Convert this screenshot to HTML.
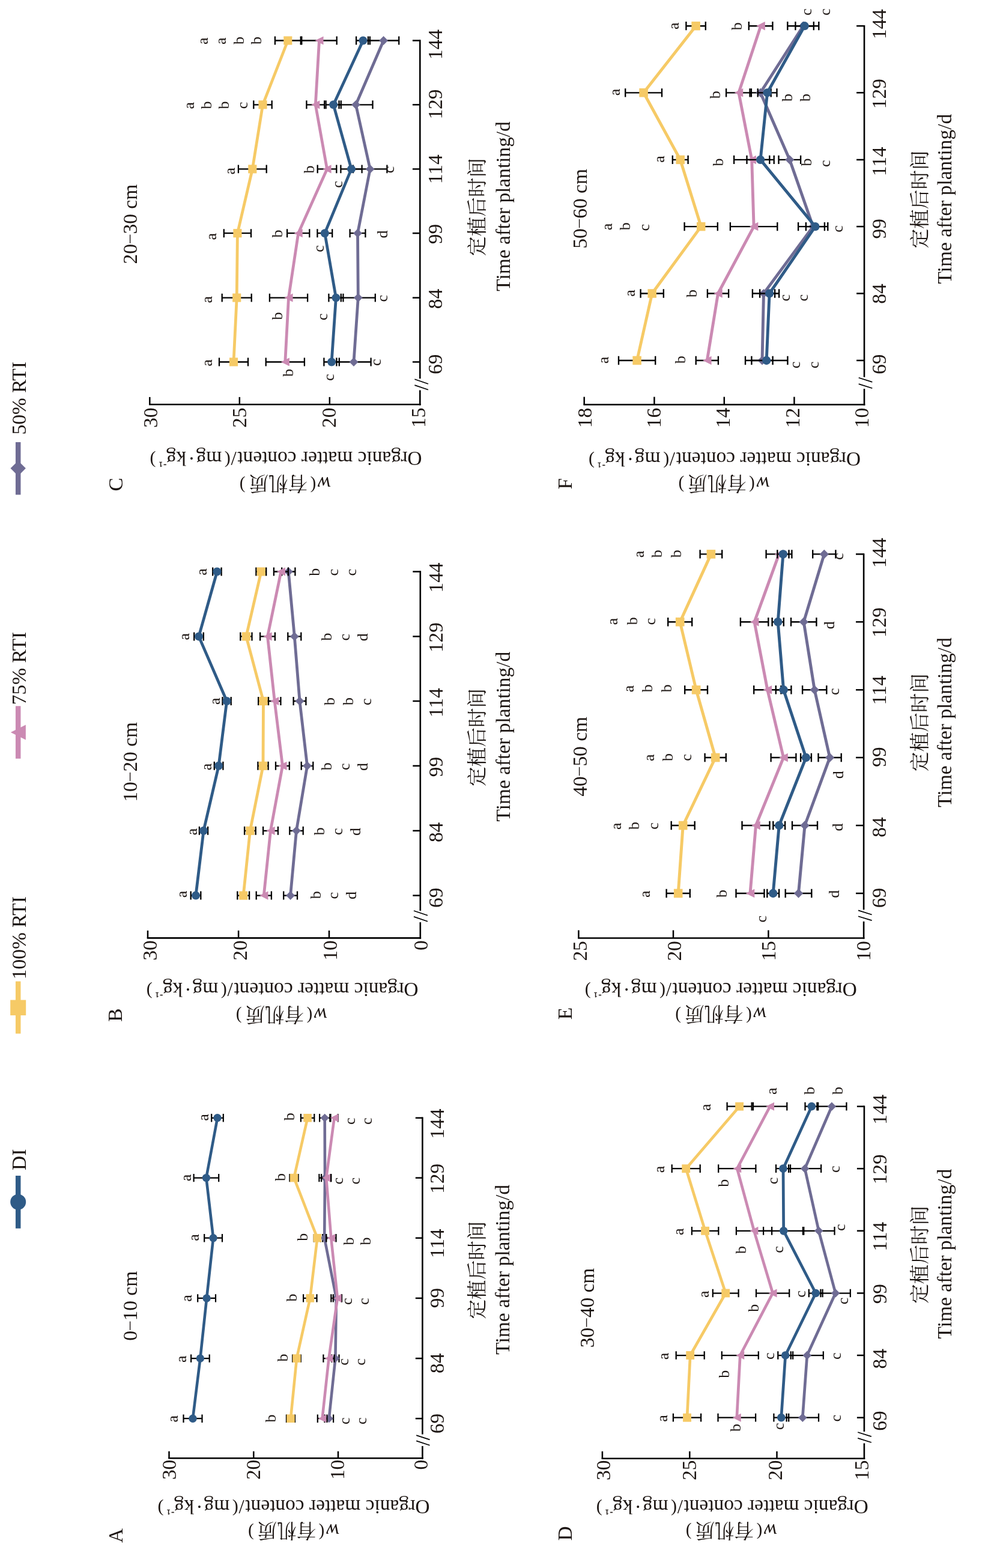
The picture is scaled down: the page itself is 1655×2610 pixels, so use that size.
<!DOCTYPE html>
<html lang="zh"><head><meta charset="utf-8"><title>Organic matter content</title>
<style>html,body{margin:0;padding:0;background:#fff}svg{display:block}.t{font-family:"Liberation Serif","Noto Serif CJK SC",serif;fill:#1c1512}.ti{font-family:"Liberation Serif","Noto Serif CJK SC",serif;font-style:italic;fill:#1c1512}.tb{font-family:"Liberation Serif","Noto Serif CJK SC",serif;fill:#1c1512;stroke:#1c1512;stroke-width:.35px}.c{font-family:"Noto Serif CJK SC","Liberation Serif",serif;fill:#1c1512}</style></head><body>
<svg xmlns="http://www.w3.org/2000/svg" width="1655" height="2610" viewBox="0 0 1655 2610">
<rect width="1655" height="2610" fill="#fff"/>
<g id="legend">
<line x1="30.2" y1="1957" x2="30.2" y2="2044.8" stroke="#2f5b87" stroke-width="8.5"/>
<circle cx="30.2" cy="2000.7" r="13" fill="#2f5b87"/>
<text class="t" font-size="33.4" transform="translate(43.2 1947.98) rotate(-90)">DI</text>
<line x1="30.2" y1="1633.4" x2="30.2" y2="1720.6" stroke="#f6ca66" stroke-width="8.5"/>
<rect x="17.2" y="1664.5" width="26" height="25.6" fill="#f6ca66"/>
<text class="t" font-size="33.4" transform="translate(43.2 1630.14) rotate(-90)">100% RTI</text>
<line x1="30.2" y1="1175.2" x2="30.2" y2="1262.8" stroke="#cb8ab3" stroke-width="8.5"/>
<polygon points="17.8,1218.9 42.9,1206.4 42.9,1231.4" fill="#cb8ab3"/>
<text class="t" font-size="33.4" transform="translate(43.2 1173.16) rotate(-90)">75% RTI</text>
<line x1="30.2" y1="735.9" x2="30.2" y2="823.6" stroke="#6f6c94" stroke-width="8.5"/>
<polygon points="17.5,779.6 30.2,766.9 42.9,779.6 30.2,792.3" fill="#6f6c94"/>
<text class="t" font-size="33.4" transform="translate(43.2 723.52) rotate(-90)">50% RTI</text>
</g>
<g id="chartA">
<line x1="280.25" y1="2427.3" x2="704.7" y2="2427.3" stroke="#000" stroke-width="2.6"/>
<line x1="281.5" y1="2427.3" x2="281.5" y2="2415.7" stroke="#000" stroke-width="2.5"/>
<line x1="422.3" y1="2427.3" x2="422.3" y2="2415.7" stroke="#000" stroke-width="2.5"/>
<line x1="563" y1="2427.3" x2="563" y2="2415.7" stroke="#000" stroke-width="2.5"/>
<line x1="703.4" y1="1859.55" x2="703.4" y2="2387.5" stroke="#000" stroke-width="2.6"/>
<line x1="703.4" y1="2407" x2="703.4" y2="2428.6" stroke="#000" stroke-width="2.6"/>
<line x1="693.2" y1="2389.1" x2="715.5" y2="2396.4" stroke="#000" stroke-width="1.7"/>
<line x1="693.2" y1="2398.4" x2="715.5" y2="2405.7" stroke="#000" stroke-width="1.7"/>
<line x1="703.4" y1="2361.2" x2="691.8" y2="2361.2" stroke="#000" stroke-width="2.5"/>
<line x1="703.4" y1="2261.1" x2="691.8" y2="2261.1" stroke="#000" stroke-width="2.5"/>
<line x1="703.4" y1="2160.9" x2="691.8" y2="2160.9" stroke="#000" stroke-width="2.5"/>
<line x1="703.4" y1="2060.7" x2="691.8" y2="2060.7" stroke="#000" stroke-width="2.5"/>
<line x1="703.4" y1="1960.6" x2="691.8" y2="1960.6" stroke="#000" stroke-width="2.5"/>
<line x1="703.4" y1="1860.8" x2="691.8" y2="1860.8" stroke="#000" stroke-width="2.5"/>
<text class="t" font-size="33.4" transform="translate(293.3 2463.1) rotate(-90)">30</text>
<text class="t" font-size="33.4" transform="translate(433 2463.1) rotate(-90)">20</text>
<text class="t" font-size="33.4" transform="translate(572.7 2463.1) rotate(-90)">10</text>
<text class="t" font-size="33.4" transform="translate(712.4 2446.4) rotate(-90)">0</text>
<text class="t" font-size="33.4" transform="translate(738.6 2386.2) rotate(-90)">69</text>
<text class="t" font-size="33.4" transform="translate(738.6 2286.02) rotate(-90)">84</text>
<text class="t" font-size="33.4" transform="translate(738.6 2177.13) rotate(-90)">99</text>
<text class="t" font-size="33.4" transform="translate(738.6 2094.33) rotate(-90)">114</text>
<text class="t" font-size="33.4" transform="translate(738.6 1987) rotate(-90)">129</text>
<text class="t" font-size="33.4" transform="translate(738.6 1895.72) rotate(-90)">144</text>
<g>
<path d="M540.5 2361.2H555.1M540.5 2354.5V2367.9M555.1 2354.5V2367.9M552.3 2261.1H564.5M552.3 2254.4V2267.8M564.5 2254.4V2267.8M551.3 2160.9H568.5M551.3 2154.2V2167.6M568.5 2154.2V2167.6M537.2 2060.7H543.2M537.2 2054V2067.4M543.2 2054V2067.4M531.4 1960.6H550.6M531.4 1953.9V1967.3M550.6 1953.9V1967.3M532.1 1860.8H549.3M532.1 1854.1V1867.5M549.3 1854.1V1867.5" stroke="#000" stroke-width="2.2" fill="none"/>
<polyline points="547.8,2361.2 558.4,2261.1 559.9,2160.9 540.2,2060.7 541,1960.6 540.7,1860.8" fill="none" stroke="#6f6c94" stroke-width="4.6" stroke-linejoin="round"/>
<polygon points="540.7,2361.2 547.8,2354.1 554.9,2361.2 547.8,2368.3" fill="#6f6c94"/>
<polygon points="551.3,2261.1 558.4,2254 565.5,2261.1 558.4,2268.2" fill="#6f6c94"/>
<polygon points="552.8,2160.9 559.9,2153.8 567,2160.9 559.9,2168" fill="#6f6c94"/>
<polygon points="533.1,2060.7 540.2,2053.6 547.3,2060.7 540.2,2067.8" fill="#6f6c94"/>
<polygon points="533.9,1960.6 541,1953.5 548.1,1960.6 541,1967.7" fill="#6f6c94"/>
<polygon points="533.6,1860.8 540.7,1853.7 547.8,1860.8 540.7,1867.9" fill="#6f6c94"/>
</g>
<g>
<path d="M528.8 2361.2H544.4M528.8 2354.5V2367.9M544.4 2354.5V2367.9M538.4 2261.1H556.6M538.4 2254.4V2267.8M556.6 2254.4V2267.8M554.8 2160.9H569M554.8 2154.2V2167.6M569 2154.2V2167.6M543.1 2060.7H559.5M543.1 2054V2067.4M559.5 2054V2067.4M535.1 1960.6H551.3M535.1 1953.9V1967.3M551.3 1953.9V1967.3M550.5 1860.8H562.7M550.5 1854.1V1867.5M562.7 1854.1V1867.5" stroke="#000" stroke-width="2.2" fill="none"/>
<polyline points="536.6,2361.2 547.5,2261.1 561.9,2160.9 551.3,2060.7 543.2,1960.6 556.6,1860.8" fill="none" stroke="#cb8ab3" stroke-width="4.6" stroke-linejoin="round"/>
<polygon points="529.8,2361.2 543.4,2354.4 543.4,2368" fill="#cb8ab3"/>
<polygon points="540.7,2261.1 554.3,2254.3 554.3,2267.9" fill="#cb8ab3"/>
<polygon points="555.1,2160.9 568.7,2154.1 568.7,2167.7" fill="#cb8ab3"/>
<polygon points="544.5,2060.7 558.1,2053.9 558.1,2067.5" fill="#cb8ab3"/>
<polygon points="536.4,1960.6 550,1953.8 550,1967.4" fill="#cb8ab3"/>
<polygon points="549.8,1860.8 563.4,1854 563.4,1867.6" fill="#cb8ab3"/>
</g>
<g>
<path d="M477 2361.2H491M477 2354.5V2367.9M491 2354.5V2367.9M487.2 2261.1H500.8M487.2 2254.4V2267.8M500.8 2254.4V2267.8M505.1 2160.9H527.5M505.1 2154.2V2167.6M527.5 2154.2V2167.6M522.7 2060.7H533.9M522.7 2054V2067.4M533.9 2054V2067.4M482.4 1960.6H496.6M482.4 1953.9V1967.3M496.6 1953.9V1967.3M500.9 1860.8H523.3M500.9 1854.1V1867.5M523.3 1854.1V1867.5" stroke="#000" stroke-width="2.2" fill="none"/>
<polyline points="484,2361.2 494,2261.1 516.3,2160.9 528.3,2060.7 489.5,1960.6 512.1,1860.8" fill="none" stroke="#f6ca66" stroke-width="4.6" stroke-linejoin="round"/>
<rect x="477.2" y="2354.4" width="13.6" height="13.6" fill="#f6ca66"/>
<rect x="487.2" y="2254.3" width="13.6" height="13.6" fill="#f6ca66"/>
<rect x="509.5" y="2154.1" width="13.6" height="13.6" fill="#f6ca66"/>
<rect x="521.5" y="2053.9" width="13.6" height="13.6" fill="#f6ca66"/>
<rect x="482.7" y="1953.8" width="13.6" height="13.6" fill="#f6ca66"/>
<rect x="505.3" y="1854" width="13.6" height="13.6" fill="#f6ca66"/>
</g>
<g>
<path d="M305.5 2361.2H336.5M305.5 2354.5V2367.9M336.5 2354.5V2367.9M318.1 2261.1H348.7M318.1 2254.4V2267.8M348.7 2254.4V2267.8M329.2 2160.9H359M329.2 2154.2V2167.6M359 2154.2V2167.6M340.2 2060.7H370M340.2 2054V2067.4M370 2054V2067.4M322.6 1960.6H364.2M322.6 1953.9V1967.3M364.2 1953.9V1967.3M352.2 1860.8H371.8M352.2 1854.1V1867.5M371.8 1854.1V1867.5" stroke="#000" stroke-width="2.2" fill="none"/>
<polyline points="321,2361.2 333.4,2261.1 344.1,2160.9 355.1,2060.7 343.4,1960.6 362,1860.8" fill="none" stroke="#2f5b87" stroke-width="4.6" stroke-linejoin="round"/>
<circle cx="321" cy="2361.2" r="6.7" fill="#2f5b87"/>
<circle cx="333.4" cy="2261.1" r="6.7" fill="#2f5b87"/>
<circle cx="344.1" cy="2160.9" r="6.7" fill="#2f5b87"/>
<circle cx="355.1" cy="2060.7" r="6.7" fill="#2f5b87"/>
<circle cx="343.4" cy="1960.6" r="6.7" fill="#2f5b87"/>
<circle cx="362" cy="1860.8" r="6.7" fill="#2f5b87"/>
</g>
<text class="t" font-size="26" transform="translate(295.84 2367.45) rotate(-90)">a</text>
<text class="t" font-size="26" transform="translate(310.24 2267.95) rotate(-90)">a</text>
<text class="t" font-size="26" transform="translate(318.74 2166.64) rotate(-90)">a</text>
<text class="t" font-size="26" transform="translate(331.14 2065.74) rotate(-90)">a</text>
<text class="t" font-size="26" transform="translate(318.44 1966.14) rotate(-90)">a</text>
<text class="t" font-size="26" transform="translate(346.84 1865.85) rotate(-90)">a</text>
<text class="t" font-size="26" transform="translate(458.84 2367.38) rotate(-90)">b</text>
<text class="t" font-size="26" transform="translate(479.24 2266.58) rotate(-90)">b</text>
<text class="t" font-size="26" transform="translate(494.14 2166.58) rotate(-90)">b</text>
<text class="t" font-size="26" transform="translate(511.64 2065.68) rotate(-90)">b</text>
<text class="t" font-size="26" transform="translate(475.04 1966.08) rotate(-90)">b</text>
<text class="t" font-size="26" transform="translate(489.94 1865.28) rotate(-90)">b</text>
<text class="t" font-size="26" transform="translate(582.04 2371.11) rotate(-90)">c</text>
<text class="t" font-size="26" transform="translate(609.94 2371.11) rotate(-90)">c</text>
<text class="t" font-size="26" transform="translate(580.04 2272.72) rotate(-90)">c</text>
<text class="t" font-size="26" transform="translate(607.64 2272.72) rotate(-90)">c</text>
<text class="t" font-size="26" transform="translate(586.24 2171.91) rotate(-90)">c</text>
<text class="t" font-size="26" transform="translate(614.34 2171.91) rotate(-90)">c</text>
<text class="t" font-size="26" transform="translate(588.74 2072.38) rotate(-90)">b</text>
<text class="t" font-size="26" transform="translate(616.84 2072.38) rotate(-90)">b</text>
<text class="t" font-size="26" transform="translate(571.34 1971.51) rotate(-90)">c</text>
<text class="t" font-size="26" transform="translate(598.74 1971.51) rotate(-90)">c</text>
<text class="t" font-size="26" transform="translate(591.24 1871.91) rotate(-90)">c</text>
<text class="t" font-size="26" transform="translate(618.84 1871.91) rotate(-90)">c</text>
<text class="t" font-size="33.4" transform="translate(228 2231.8) rotate(-90)">0<tspan font-size="28" dx="1.35" dy="-5.4">–</tspan><tspan dx="1.35" dy="5.4">10 cm</tspan></text>
<text class="t" font-size="33.4" transform="translate(204.2 2568.11) rotate(-90)">A</text>
<text class="c" font-size="32.6" transform="translate(805.73 2195.53) rotate(-90)">定植后时间</text>
<text class="t" font-size="33.4" transform="translate(848 2254.65) rotate(-90)">Time after planting/d</text>
<g transform="translate(488.6 2496.8) rotate(180)">
<text class="t" font-size="33.4" x="-226.94" y="0">Organic matter content</text>
<text class="t" font-size="33.4" x="81.9" y="0">/</text>
<text class="t" font-size="30" x="91.85" y="-5">(</text>
<text class="t" font-size="33.4" x="106.43" y="0">mg</text>
<text class="t" font-size="33.4" x="151.09" y="0">·</text>
<text class="t" font-size="33.4" x="165.33" y="0">kg</text>
<text class="tb" font-size="15" x="198.38" y="-17.3">-</text>
<text class="tb" font-size="13" x="204.7" y="-16.3">1</text>
<text class="t" font-size="30" x="216" y="-5">)</text>
</g>
<g transform="translate(488.5 2548.55) rotate(180)">
<text class="ti" font-size="33.4" x="-76.68" y="11.4">w</text>
<text class="t" font-size="29" x="-51.85" y="6.96">(</text>
<text class="c" font-size="32.6" x="-37.76" y="12.39">有机质</text>
<text class="t" font-size="29" x="65.88" y="6.96">)</text>
</g>
</g>
<g id="chartB">
<line x1="244.75" y1="1561.4" x2="701.1" y2="1561.4" stroke="#000" stroke-width="2.6"/>
<line x1="246" y1="1561.4" x2="246" y2="1548.91" stroke="#000" stroke-width="2.5"/>
<line x1="397.1" y1="1561.4" x2="397.1" y2="1548.91" stroke="#000" stroke-width="2.5"/>
<line x1="548" y1="1561.4" x2="548" y2="1548.91" stroke="#000" stroke-width="2.5"/>
<line x1="699.8" y1="950.25" x2="699.8" y2="1516.1" stroke="#000" stroke-width="2.6"/>
<line x1="699.8" y1="1535.1" x2="699.8" y2="1562.7" stroke="#000" stroke-width="2.6"/>
<line x1="689" y1="1516" x2="712" y2="1523.8" stroke="#000" stroke-width="1.7"/>
<line x1="689" y1="1525.9" x2="712" y2="1533.7" stroke="#000" stroke-width="1.7"/>
<line x1="699.8" y1="1490.6" x2="687.31" y2="1490.6" stroke="#000" stroke-width="2.5"/>
<line x1="699.8" y1="1382.8" x2="687.31" y2="1382.8" stroke="#000" stroke-width="2.5"/>
<line x1="699.8" y1="1274.8" x2="687.31" y2="1274.8" stroke="#000" stroke-width="2.5"/>
<line x1="699.8" y1="1167" x2="687.31" y2="1167" stroke="#000" stroke-width="2.5"/>
<line x1="699.8" y1="1059.4" x2="687.31" y2="1059.4" stroke="#000" stroke-width="2.5"/>
<line x1="699.8" y1="951.5" x2="687.31" y2="951.5" stroke="#000" stroke-width="2.5"/>
<text class="t" font-size="33.4" transform="translate(260.8 1598.8) rotate(-90)">30</text>
<text class="t" font-size="33.4" transform="translate(411.07 1598.8) rotate(-90)">20</text>
<text class="t" font-size="33.4" transform="translate(561.33 1598.8) rotate(-90)">10</text>
<text class="t" font-size="33.4" transform="translate(711.6 1582.1) rotate(-90)">0</text>
<text class="t" font-size="33.4" transform="translate(736.7 1510.9) rotate(-90)">69</text>
<text class="t" font-size="33.4" transform="translate(736.7 1402.12) rotate(-90)">84</text>
<text class="t" font-size="33.4" transform="translate(736.7 1293.23) rotate(-90)">99</text>
<text class="t" font-size="33.4" transform="translate(736.7 1194.23) rotate(-90)">114</text>
<text class="t" font-size="33.4" transform="translate(736.7 1086.1) rotate(-90)">129</text>
<text class="t" font-size="33.4" transform="translate(736.7 986.52) rotate(-90)">144</text>
<g>
<path d="M472.2 1490.6H495M472.2 1483.59V1497.61M495 1483.59V1497.61M482.3 1382.8H504.7M482.3 1375.79V1389.81M504.7 1375.79V1389.81M501.7 1274.8H521.3M501.7 1267.79V1281.81M521.3 1267.79V1281.81M488.6 1167H509.4M488.6 1159.99V1174.01M509.4 1159.99V1174.01M479.3 1059.4H501.3M479.3 1052.39V1066.41M501.3 1052.39V1066.41M469.2 951.5H491.4M469.2 944.49V958.51M491.4 944.49V958.51" stroke="#000" stroke-width="2.3" fill="none"/>
<polyline points="483.6,1490.6 493.5,1382.8 511.5,1274.8 499,1167 490.3,1059.4 480.3,951.5" fill="none" stroke="#6f6c94" stroke-width="4.81" stroke-linejoin="round"/>
<polygon points="476.17,1490.6 483.6,1483.17 491.03,1490.6 483.6,1498.03" fill="#6f6c94"/>
<polygon points="486.07,1382.8 493.5,1375.37 500.93,1382.8 493.5,1390.23" fill="#6f6c94"/>
<polygon points="504.07,1274.8 511.5,1267.37 518.93,1274.8 511.5,1282.23" fill="#6f6c94"/>
<polygon points="491.57,1167 499,1159.57 506.43,1167 499,1174.43" fill="#6f6c94"/>
<polygon points="482.87,1059.4 490.3,1051.97 497.73,1059.4 490.3,1066.83" fill="#6f6c94"/>
<polygon points="472.87,951.5 480.3,944.07 487.73,951.5 480.3,958.93" fill="#6f6c94"/>
</g>
<g>
<path d="M426.7 1490.6H451.9M426.7 1483.59V1497.61M451.9 1483.59V1497.61M438.1 1382.8H462.9M438.1 1375.79V1389.81M462.9 1375.79V1389.81M459 1274.8H481.8M459 1267.79V1281.81M481.8 1267.79V1281.81M447 1167H467.4M447 1159.99V1174.01M467.4 1159.99V1174.01M433.1 1059.4H457.9M433.1 1052.39V1066.41M457.9 1052.39V1066.41M455.9 951.5H479.9M455.9 944.49V958.51M479.9 944.49V958.51" stroke="#000" stroke-width="2.3" fill="none"/>
<polyline points="439.3,1490.6 450.5,1382.8 470.4,1274.8 457.2,1167 445.5,1059.4 467.9,951.5" fill="none" stroke="#cb8ab3" stroke-width="4.81" stroke-linejoin="round"/>
<polygon points="432.19,1490.6 446.41,1483.49 446.41,1497.71" fill="#cb8ab3"/>
<polygon points="443.39,1382.8 457.61,1375.69 457.61,1389.91" fill="#cb8ab3"/>
<polygon points="463.29,1274.8 477.51,1267.69 477.51,1281.91" fill="#cb8ab3"/>
<polygon points="450.09,1167 464.31,1159.89 464.31,1174.11" fill="#cb8ab3"/>
<polygon points="438.39,1059.4 452.61,1052.29 452.61,1066.51" fill="#cb8ab3"/>
<polygon points="460.79,951.5 475.01,944.39 475.01,958.61" fill="#cb8ab3"/>
</g>
<g>
<path d="M395.3 1490.6H415.1M395.3 1483.59V1497.61M415.1 1483.59V1497.61M407.1 1382.8H425.7M407.1 1375.79V1389.81M425.7 1375.79V1389.81M429.4 1274.8H446.6M429.4 1267.79V1281.81M446.6 1267.79V1281.81M430.2 1167H446.8M430.2 1159.99V1174.01M446.8 1159.99V1174.01M400.3 1059.4H419.5M400.3 1052.39V1066.41M419.5 1052.39V1066.41M426.4 951.5H443.2M426.4 944.49V958.51M443.2 944.49V958.51" stroke="#000" stroke-width="2.3" fill="none"/>
<polyline points="405.2,1490.6 416.4,1382.8 438,1274.8 438.5,1167 409.9,1059.4 434.8,951.5" fill="none" stroke="#f6ca66" stroke-width="4.81" stroke-linejoin="round"/>
<rect x="398.09" y="1483.49" width="14.23" height="14.23" fill="#f6ca66"/>
<rect x="409.29" y="1375.69" width="14.23" height="14.23" fill="#f6ca66"/>
<rect x="430.89" y="1267.69" width="14.23" height="14.23" fill="#f6ca66"/>
<rect x="431.39" y="1159.89" width="14.23" height="14.23" fill="#f6ca66"/>
<rect x="402.79" y="1052.29" width="14.23" height="14.23" fill="#f6ca66"/>
<rect x="427.69" y="944.39" width="14.23" height="14.23" fill="#f6ca66"/>
</g>
<g>
<path d="M317.7 1490.6H334.3M317.7 1483.59V1497.61M334.3 1483.59V1497.61M331.9 1382.8H346.1M331.9 1375.79V1389.81M346.1 1375.79V1389.81M356.8 1274.8H371.4M356.8 1267.79V1281.81M371.4 1267.79V1281.81M370.5 1167H384.7M370.5 1159.99V1174.01M384.7 1159.99V1174.01M323.2 1059.4H338.8M323.2 1052.39V1066.41M338.8 1052.39V1066.41M354.2 951.5H368.6M354.2 944.49V958.51M368.6 944.49V958.51" stroke="#000" stroke-width="2.3" fill="none"/>
<polyline points="326,1490.6 339,1382.8 364.1,1274.8 377.6,1167 331,1059.4 361.4,951.5" fill="none" stroke="#2f5b87" stroke-width="4.81" stroke-linejoin="round"/>
<circle cx="326" cy="1490.6" r="7.01" fill="#2f5b87"/>
<circle cx="339" cy="1382.8" r="7.01" fill="#2f5b87"/>
<circle cx="364.1" cy="1274.8" r="7.01" fill="#2f5b87"/>
<circle cx="377.6" cy="1167" r="7.01" fill="#2f5b87"/>
<circle cx="331" cy="1059.4" r="7.01" fill="#2f5b87"/>
<circle cx="361.4" cy="951.5" r="7.01" fill="#2f5b87"/>
</g>
<text class="t" font-size="26" transform="translate(310.84 1494.35) rotate(-90)">a</text>
<text class="t" font-size="26" transform="translate(533.64 1496.28) rotate(-90)">b</text>
<text class="t" font-size="26" transform="translate(563.34 1496.51) rotate(-90)">c</text>
<text class="t" font-size="26" transform="translate(593.34 1496.92) rotate(-90)">d</text>
<text class="t" font-size="26" transform="translate(327.54 1390.25) rotate(-90)">a</text>
<text class="t" font-size="26" transform="translate(540.34 1390.18) rotate(-90)">b</text>
<text class="t" font-size="26" transform="translate(569.74 1390.12) rotate(-90)">c</text>
<text class="t" font-size="26" transform="translate(599.54 1391.03) rotate(-90)">d</text>
<text class="t" font-size="26" transform="translate(351.94 1282.25) rotate(-90)">a</text>
<text class="t" font-size="26" transform="translate(551.74 1282.18) rotate(-90)">b</text>
<text class="t" font-size="26" transform="translate(581.64 1282.12) rotate(-90)">c</text>
<text class="t" font-size="26" transform="translate(612.04 1283.03) rotate(-90)">d</text>
<text class="t" font-size="26" transform="translate(365.64 1173.05) rotate(-90)">a</text>
<text class="t" font-size="26" transform="translate(557.24 1173.98) rotate(-90)">b</text>
<text class="t" font-size="26" transform="translate(587.84 1173.98) rotate(-90)">b</text>
<text class="t" font-size="26" transform="translate(617.74 1173.91) rotate(-90)">c</text>
<text class="t" font-size="26" transform="translate(315.34 1065.55) rotate(-90)">a</text>
<text class="t" font-size="26" transform="translate(551.54 1066.48) rotate(-90)">b</text>
<text class="t" font-size="26" transform="translate(581.64 1066.41) rotate(-90)">c</text>
<text class="t" font-size="26" transform="translate(611.54 1067.33) rotate(-90)">d</text>
<text class="t" font-size="26" transform="translate(343.74 957.75) rotate(-90)">a</text>
<text class="t" font-size="26" transform="translate(532.34 958.68) rotate(-90)">b</text>
<text class="t" font-size="26" transform="translate(562.74 958.62) rotate(-90)">c</text>
<text class="t" font-size="26" transform="translate(592.54 958.62) rotate(-90)">c</text>
<text class="t" font-size="33.4" transform="translate(228 1334.65) rotate(-90)">10<tspan font-size="28" dx="1.35" dy="-5.4">–</tspan><tspan dx="1.35" dy="5.4">20 cm</tspan></text>
<text class="t" font-size="33.4" transform="translate(203.3 1700.86) rotate(-90)">B</text>
<text class="c" font-size="32.6" transform="translate(806.23 1308.73) rotate(-90)">定植后时间</text>
<text class="t" font-size="33.4" transform="translate(848.5 1367.45) rotate(-90)">Time after planting/d</text>
<g transform="translate(469.65 1636) rotate(180)">
<text class="t" font-size="33.4" x="-226.94" y="0">Organic matter content</text>
<text class="t" font-size="33.4" x="81.9" y="0">/</text>
<text class="t" font-size="30" x="91.85" y="-5">(</text>
<text class="t" font-size="33.4" x="106.43" y="0">mg</text>
<text class="t" font-size="33.4" x="151.09" y="0">·</text>
<text class="t" font-size="33.4" x="165.33" y="0">kg</text>
<text class="tb" font-size="15" x="198.38" y="-17.3">-</text>
<text class="tb" font-size="13" x="204.7" y="-16.3">1</text>
<text class="t" font-size="30" x="216" y="-5">)</text>
</g>
<g transform="translate(468.3 1689.3) rotate(180)">
<text class="ti" font-size="33.4" x="-76.68" y="11.4">w</text>
<text class="t" font-size="29" x="-51.85" y="6.96">(</text>
<text class="c" font-size="32.6" x="-37.76" y="12.39">有机质</text>
<text class="t" font-size="29" x="65.88" y="6.96">)</text>
</g>
</g>
<g id="chartC">
<line x1="248.05" y1="673.3" x2="700.6" y2="673.3" stroke="#000" stroke-width="2.6"/>
<line x1="249.3" y1="673.3" x2="249.3" y2="660.91" stroke="#000" stroke-width="2.5"/>
<line x1="398.8" y1="673.3" x2="398.8" y2="660.91" stroke="#000" stroke-width="2.5"/>
<line x1="548.8" y1="673.3" x2="548.8" y2="660.91" stroke="#000" stroke-width="2.5"/>
<line x1="699.3" y1="66.25" x2="699.3" y2="630.2" stroke="#000" stroke-width="2.6"/>
<line x1="699.3" y1="649.5" x2="699.3" y2="674.6" stroke="#000" stroke-width="2.6"/>
<line x1="690.4" y1="631.2" x2="713" y2="639" stroke="#000" stroke-width="1.7"/>
<line x1="690.4" y1="641.1" x2="713" y2="648.8" stroke="#000" stroke-width="1.7"/>
<line x1="699.3" y1="602.5" x2="686.91" y2="602.5" stroke="#000" stroke-width="2.5"/>
<line x1="699.3" y1="495.6" x2="686.91" y2="495.6" stroke="#000" stroke-width="2.5"/>
<line x1="699.3" y1="388.2" x2="686.91" y2="388.2" stroke="#000" stroke-width="2.5"/>
<line x1="699.3" y1="281.4" x2="686.91" y2="281.4" stroke="#000" stroke-width="2.5"/>
<line x1="699.3" y1="174.3" x2="686.91" y2="174.3" stroke="#000" stroke-width="2.5"/>
<line x1="699.3" y1="67.5" x2="686.91" y2="67.5" stroke="#000" stroke-width="2.5"/>
<text class="t" font-size="33.4" transform="translate(261.6 712) rotate(-90)">30</text>
<text class="t" font-size="33.4" transform="translate(410.43 712) rotate(-90)">25</text>
<text class="t" font-size="33.4" transform="translate(559.27 712) rotate(-90)">20</text>
<text class="t" font-size="33.4" transform="translate(708.1 712) rotate(-90)">15</text>
<text class="t" font-size="33.4" transform="translate(735.8 622.9) rotate(-90)">69</text>
<text class="t" font-size="33.4" transform="translate(735.8 514.22) rotate(-90)">84</text>
<text class="t" font-size="33.4" transform="translate(735.8 406.23) rotate(-90)">99</text>
<text class="t" font-size="33.4" transform="translate(735.8 306.23) rotate(-90)">114</text>
<text class="t" font-size="33.4" transform="translate(735.8 198.6) rotate(-90)">129</text>
<text class="t" font-size="33.4" transform="translate(735.8 99.22) rotate(-90)">144</text>
<g>
<path d="M560.4 602.5H617.6M560.4 595.53V609.47M617.6 595.53V609.47M567.8 495.6H624.8M567.8 488.63V502.57M624.8 488.63V502.57M582.6 388.2H608.4M582.6 381.23V395.17M608.4 381.23V395.17M588 281.4H644.4M588 274.43V288.37M644.4 274.43V288.37M564.5 174.3H620.5M564.5 167.33V181.27M620.5 167.33V181.27M613 67.5H664.2M613 60.53V74.47M664.2 60.53V74.47" stroke="#000" stroke-width="2.29" fill="none"/>
<polyline points="589,602.5 596.3,495.6 595.5,388.2 616.2,281.4 592.5,174.3 638.6,67.5" fill="none" stroke="#6f6c94" stroke-width="4.79" stroke-linejoin="round"/>
<polygon points="581.61,602.5 589,595.11 596.39,602.5 589,609.89" fill="#6f6c94"/>
<polygon points="588.91,495.6 596.3,488.21 603.69,495.6 596.3,502.99" fill="#6f6c94"/>
<polygon points="588.11,388.2 595.5,380.81 602.89,388.2 595.5,395.59" fill="#6f6c94"/>
<polygon points="608.81,281.4 616.2,274.01 623.59,281.4 616.2,288.79" fill="#6f6c94"/>
<polygon points="585.11,174.3 592.5,166.91 599.89,174.3 592.5,181.69" fill="#6f6c94"/>
<polygon points="631.21,67.5 638.6,60.11 645.99,67.5 638.6,74.89" fill="#6f6c94"/>
</g>
<g>
<path d="M442.7 602.5H506.9M442.7 595.53V609.47M506.9 595.53V609.47M448.9 495.6H512.1M448.9 488.63V502.57M512.1 488.63V502.57M478.1 388.2H515.3M478.1 381.23V395.17M515.3 381.23V395.17M528.7 281.4H560.3M528.7 274.43V288.37M560.3 274.43V288.37M510.4 174.3H540.2M510.4 167.33V181.27M540.2 167.33V181.27M502.3 67.5H560.7M502.3 60.53V74.47M560.7 60.53V74.47" stroke="#000" stroke-width="2.29" fill="none"/>
<polyline points="474.8,602.5 480.5,495.6 496.7,388.2 544.5,281.4 525.3,174.3 531.5,67.5" fill="none" stroke="#cb8ab3" stroke-width="4.79" stroke-linejoin="round"/>
<polygon points="467.72,602.5 481.88,595.42 481.88,609.58" fill="#cb8ab3"/>
<polygon points="473.42,495.6 487.58,488.52 487.58,502.68" fill="#cb8ab3"/>
<polygon points="489.62,388.2 503.78,381.12 503.78,395.28" fill="#cb8ab3"/>
<polygon points="537.42,281.4 551.58,274.32 551.58,288.48" fill="#cb8ab3"/>
<polygon points="518.22,174.3 532.38,167.22 532.38,181.38" fill="#cb8ab3"/>
<polygon points="524.42,67.5 538.58,60.42 538.58,74.58" fill="#cb8ab3"/>
</g>
<g>
<path d="M365 602.5H413M365 595.53V609.47M413 595.53V609.47M369.7 495.6H418.7M369.7 488.63V502.57M418.7 488.63V502.57M372.8 388.2H418M372.8 381.23V395.17M418 381.23V395.17M396.9 281.4H443.7M396.9 274.43V288.37M443.7 274.43V288.37M422.3 174.3H452.7M422.3 167.33V181.27M452.7 167.33V181.27M457.9 67.5H500.7M457.9 60.53V74.47M500.7 60.53V74.47" stroke="#000" stroke-width="2.29" fill="none"/>
<polyline points="389,602.5 394.2,495.6 395.4,388.2 420.3,281.4 437.5,174.3 479.3,67.5" fill="none" stroke="#f6ca66" stroke-width="4.79" stroke-linejoin="round"/>
<rect x="381.92" y="595.42" width="14.15" height="14.15" fill="#f6ca66"/>
<rect x="387.12" y="488.52" width="14.15" height="14.15" fill="#f6ca66"/>
<rect x="388.32" y="381.12" width="14.15" height="14.15" fill="#f6ca66"/>
<rect x="413.22" y="274.32" width="14.15" height="14.15" fill="#f6ca66"/>
<rect x="430.42" y="167.22" width="14.15" height="14.15" fill="#f6ca66"/>
<rect x="472.22" y="60.42" width="14.15" height="14.15" fill="#f6ca66"/>
</g>
<g>
<path d="M539.4 602.5H564.8M539.4 595.53V609.47M564.8 595.53V609.47M547.4 495.6H571.4M547.4 488.63V502.57M571.4 488.63V502.57M528.4 388.2H553.2M528.4 381.23V395.17M553.2 381.23V395.17M567.4 281.4H602.6M567.4 274.43V288.37M602.6 274.43V288.37M542.6 174.3H567.8M542.6 167.33V181.27M567.8 167.33V181.27M593.1 67.5H615.9M593.1 60.53V74.47M615.9 60.53V74.47" stroke="#000" stroke-width="2.29" fill="none"/>
<polyline points="552.1,602.5 559.4,495.6 540.8,388.2 585,281.4 555.2,174.3 604.5,67.5" fill="none" stroke="#2f5b87" stroke-width="4.79" stroke-linejoin="round"/>
<circle cx="552.1" cy="602.5" r="6.97" fill="#2f5b87"/>
<circle cx="559.4" cy="495.6" r="6.97" fill="#2f5b87"/>
<circle cx="540.8" cy="388.2" r="6.97" fill="#2f5b87"/>
<circle cx="585" cy="281.4" r="6.97" fill="#2f5b87"/>
<circle cx="555.2" cy="174.3" r="6.97" fill="#2f5b87"/>
<circle cx="604.5" cy="67.5" r="6.97" fill="#2f5b87"/>
</g>
<text class="t" font-size="26" transform="translate(352.84 609.75) rotate(-90)">a</text>
<text class="t" font-size="26" transform="translate(488.24 627.08) rotate(-90)">b</text>
<text class="t" font-size="26" transform="translate(556.14 634.01) rotate(-90)">c</text>
<text class="t" font-size="26" transform="translate(633.84 609.01) rotate(-90)">c</text>
<text class="t" font-size="26" transform="translate(352.84 504.44) rotate(-90)">a</text>
<text class="t" font-size="26" transform="translate(470.34 532.48) rotate(-90)">b</text>
<text class="t" font-size="26" transform="translate(544.94 533.21) rotate(-90)">c</text>
<text class="t" font-size="26" transform="translate(644.54 502.62) rotate(-90)">c</text>
<text class="t" font-size="26" transform="translate(359.54 399.44) rotate(-90)">a</text>
<text class="t" font-size="26" transform="translate(470.34 395.58) rotate(-90)">b</text>
<text class="t" font-size="26" transform="translate(538.74 419.72) rotate(-90)">c</text>
<text class="t" font-size="26" transform="translate(644.54 396.43) rotate(-90)">d</text>
<text class="t" font-size="26" transform="translate(391.44 290.44) rotate(-90)">a</text>
<text class="t" font-size="26" transform="translate(522.54 288.38) rotate(-90)">b</text>
<text class="t" font-size="26" transform="translate(569.84 312.72) rotate(-90)">c</text>
<text class="t" font-size="26" transform="translate(655.74 288.31) rotate(-90)">c</text>
<text class="t" font-size="26" transform="translate(323.14 181.44) rotate(-90)">a</text>
<text class="t" font-size="26" transform="translate(352.14 181.38) rotate(-90)">b</text>
<text class="t" font-size="26" transform="translate(381.24 181.38) rotate(-90)">b</text>
<text class="t" font-size="26" transform="translate(411.84 181.31) rotate(-90)">c</text>
<text class="t" font-size="26" transform="translate(346.34 73.95) rotate(-90)">a</text>
<text class="t" font-size="26" transform="translate(375.74 73.95) rotate(-90)">a</text>
<text class="t" font-size="26" transform="translate(405.64 73.88) rotate(-90)">b</text>
<text class="t" font-size="26" transform="translate(435.44 73.88) rotate(-90)">b</text>
<text class="t" font-size="33.4" transform="translate(228 439.48) rotate(-90)">20<tspan font-size="28" dx="1.35" dy="-5.4">–</tspan><tspan dx="1.35" dy="5.4">30 cm</tspan></text>
<text class="t" font-size="33.4" transform="translate(203.7 817.46) rotate(-90)">C</text>
<text class="c" font-size="32.6" transform="translate(806.23 425.93) rotate(-90)">定植后时间</text>
<text class="t" font-size="33.4" transform="translate(848.5 484.75) rotate(-90)">Time after planting/d</text>
<g transform="translate(475.6 752.4) rotate(180)">
<text class="t" font-size="33.4" x="-226.94" y="0">Organic matter content</text>
<text class="t" font-size="33.4" x="81.9" y="0">/</text>
<text class="t" font-size="30" x="91.85" y="-5">(</text>
<text class="t" font-size="33.4" x="106.43" y="0">mg</text>
<text class="t" font-size="33.4" x="151.09" y="0">·</text>
<text class="t" font-size="33.4" x="165.33" y="0">kg</text>
<text class="tb" font-size="15" x="198.38" y="-17.3">-</text>
<text class="tb" font-size="13" x="204.7" y="-16.3">1</text>
<text class="t" font-size="30" x="216" y="-5">)</text>
</g>
<g transform="translate(474.3 805.7) rotate(180)">
<text class="ti" font-size="33.4" x="-76.68" y="11.4">w</text>
<text class="t" font-size="29" x="-51.85" y="6.96">(</text>
<text class="c" font-size="32.6" x="-37.76" y="12.39">有机质</text>
<text class="t" font-size="29" x="65.88" y="6.96">)</text>
</g>
</g>
<g id="chartD">
<line x1="1001.65" y1="2427.8" x2="1440.2" y2="2427.8" stroke="#000" stroke-width="2.6"/>
<line x1="1002.9" y1="2427.8" x2="1002.9" y2="2415.79" stroke="#000" stroke-width="2.5"/>
<line x1="1148.3" y1="2427.8" x2="1148.3" y2="2415.79" stroke="#000" stroke-width="2.5"/>
<line x1="1293.5" y1="2427.8" x2="1293.5" y2="2415.79" stroke="#000" stroke-width="2.5"/>
<line x1="1438.9" y1="1840.45" x2="1438.9" y2="2382.9" stroke="#000" stroke-width="2.6"/>
<line x1="1438.9" y1="2402.4" x2="1438.9" y2="2429.1" stroke="#000" stroke-width="2.6"/>
<line x1="1428.2" y1="2384" x2="1450.8" y2="2391.1" stroke="#000" stroke-width="1.7"/>
<line x1="1428.2" y1="2393.9" x2="1450.8" y2="2401" stroke="#000" stroke-width="1.7"/>
<line x1="1438.9" y1="2359.7" x2="1426.89" y2="2359.7" stroke="#000" stroke-width="2.5"/>
<line x1="1438.9" y1="2256" x2="1426.89" y2="2256" stroke="#000" stroke-width="2.5"/>
<line x1="1438.9" y1="2152.5" x2="1426.89" y2="2152.5" stroke="#000" stroke-width="2.5"/>
<line x1="1438.9" y1="2048.8" x2="1426.89" y2="2048.8" stroke="#000" stroke-width="2.5"/>
<line x1="1438.9" y1="1945.2" x2="1426.89" y2="1945.2" stroke="#000" stroke-width="2.5"/>
<line x1="1438.9" y1="1841.7" x2="1426.89" y2="1841.7" stroke="#000" stroke-width="2.5"/>
<text class="t" font-size="33.4" transform="translate(1015.5 2464) rotate(-90)">30</text>
<text class="t" font-size="33.4" transform="translate(1158.93 2464) rotate(-90)">25</text>
<text class="t" font-size="33.4" transform="translate(1302.37 2464) rotate(-90)">20</text>
<text class="t" font-size="33.4" transform="translate(1445.8 2464) rotate(-90)">15</text>
<text class="t" font-size="33.4" transform="translate(1476.3 2381.7) rotate(-90)">69</text>
<text class="t" font-size="33.4" transform="translate(1476.3 2278.52) rotate(-90)">84</text>
<text class="t" font-size="33.4" transform="translate(1476.3 2170.33) rotate(-90)">99</text>
<text class="t" font-size="33.4" transform="translate(1476.3 2082.83) rotate(-90)">114</text>
<text class="t" font-size="33.4" transform="translate(1476.3 1971.5) rotate(-90)">129</text>
<text class="t" font-size="33.4" transform="translate(1476.3 1872.02) rotate(-90)">144</text>
<g>
<path d="M1309.6 2359.7H1363M1309.6 2352.86V2366.54M1363 2352.86V2366.54M1316.8 2256H1370.8M1316.8 2249.16V2262.84M1370.8 2249.16V2262.84M1366.4 2152.5H1415.8M1366.4 2145.66V2159.34M1415.8 2145.66V2159.34M1336.9 2048.8H1389.5M1336.9 2041.96V2055.64M1389.5 2041.96V2055.64M1313.1 1945.2H1367.1M1313.1 1938.36V1952.04M1367.1 1938.36V1952.04M1360.4 1841.7H1409.4M1360.4 1834.86V1848.54M1409.4 1834.86V1848.54" stroke="#000" stroke-width="2.25" fill="none"/>
<polyline points="1336.3,2359.7 1343.8,2256 1391.1,2152.5 1363.2,2048.8 1340.1,1945.2 1384.9,1841.7" fill="none" stroke="#6f6c94" stroke-width="4.7" stroke-linejoin="round"/>
<polygon points="1329.05,2359.7 1336.3,2352.45 1343.55,2359.7 1336.3,2366.95" fill="#6f6c94"/>
<polygon points="1336.55,2256 1343.8,2248.75 1351.05,2256 1343.8,2263.25" fill="#6f6c94"/>
<polygon points="1383.85,2152.5 1391.1,2145.25 1398.35,2152.5 1391.1,2159.75" fill="#6f6c94"/>
<polygon points="1355.95,2048.8 1363.2,2041.55 1370.45,2048.8 1363.2,2056.05" fill="#6f6c94"/>
<polygon points="1332.85,1945.2 1340.1,1937.95 1347.35,1945.2 1340.1,1952.45" fill="#6f6c94"/>
<polygon points="1377.65,1841.7 1384.9,1834.45 1392.15,1841.7 1384.9,1848.95" fill="#6f6c94"/>
</g>
<g>
<path d="M1195.5 2359.7H1258.1M1195.5 2352.86V2366.54M1258.1 2352.86V2366.54M1201.8 2256H1262.8M1201.8 2249.16V2262.84M1262.8 2249.16V2262.84M1259 2152.5H1314.2M1259 2145.66V2159.34M1314.2 2145.66V2159.34M1225.9 2048.8H1285.1M1225.9 2041.96V2055.64M1285.1 2041.96V2055.64M1196.2 1945.2H1258.4M1196.2 1938.36V1952.04M1258.4 1938.36V1952.04M1253.9 1841.7H1310.3M1253.9 1834.86V1848.54M1310.3 1834.86V1848.54" stroke="#000" stroke-width="2.25" fill="none"/>
<polyline points="1226.8,2359.7 1232.3,2256 1286.6,2152.5 1255.5,2048.8 1227.3,1945.2 1282.1,1841.7" fill="none" stroke="#cb8ab3" stroke-width="4.7" stroke-linejoin="round"/>
<polygon points="1219.86,2359.7 1233.74,2352.76 1233.74,2366.64" fill="#cb8ab3"/>
<polygon points="1225.36,2256 1239.24,2249.06 1239.24,2262.94" fill="#cb8ab3"/>
<polygon points="1279.66,2152.5 1293.54,2145.56 1293.54,2159.44" fill="#cb8ab3"/>
<polygon points="1248.56,2048.8 1262.44,2041.86 1262.44,2055.74" fill="#cb8ab3"/>
<polygon points="1220.36,1945.2 1234.24,1938.26 1234.24,1952.14" fill="#cb8ab3"/>
<polygon points="1275.16,1841.7 1289.04,1834.76 1289.04,1848.64" fill="#cb8ab3"/>
</g>
<g>
<path d="M1120.9 2359.7H1167.1M1120.9 2352.86V2366.54M1167.1 2352.86V2366.54M1125.7 2256H1172.7M1125.7 2249.16V2262.84M1172.7 2249.16V2262.84M1186.8 2152.5H1229.6M1186.8 2145.66V2159.34M1229.6 2145.66V2159.34M1151.9 2048.8H1196.3M1151.9 2041.96V2055.64M1196.3 2041.96V2055.64M1118.7 1945.2H1165.7M1118.7 1938.36V1952.04M1165.7 1938.36V1952.04M1210.6 1841.7H1251.6M1210.6 1834.86V1848.54M1251.6 1834.86V1848.54" stroke="#000" stroke-width="2.25" fill="none"/>
<polyline points="1144,2359.7 1149.2,2256 1208.2,2152.5 1174.1,2048.8 1142.2,1945.2 1231.1,1841.7" fill="none" stroke="#f6ca66" stroke-width="4.7" stroke-linejoin="round"/>
<rect x="1137.06" y="2352.76" width="13.89" height="13.89" fill="#f6ca66"/>
<rect x="1142.26" y="2249.06" width="13.89" height="13.89" fill="#f6ca66"/>
<rect x="1201.26" y="2145.56" width="13.89" height="13.89" fill="#f6ca66"/>
<rect x="1167.16" y="2041.86" width="13.89" height="13.89" fill="#f6ca66"/>
<rect x="1135.26" y="1938.26" width="13.89" height="13.89" fill="#f6ca66"/>
<rect x="1224.16" y="1834.76" width="13.89" height="13.89" fill="#f6ca66"/>
</g>
<g>
<path d="M1288.4 2359.7H1313.2M1288.4 2352.86V2366.54M1313.2 2352.86V2366.54M1295.3 2256H1320.1M1295.3 2249.16V2262.84M1320.1 2249.16V2262.84M1346.8 2152.5H1369.6M1346.8 2145.66V2159.34M1369.6 2145.66V2159.34M1271.1 2048.8H1338.3M1271.1 2041.96V2055.64M1338.3 2041.96V2055.64M1292 1945.2H1316M1292 1938.36V1952.04M1316 1938.36V1952.04M1340.5 1841.7H1362.1M1340.5 1834.86V1848.54M1362.1 1834.86V1848.54" stroke="#000" stroke-width="2.25" fill="none"/>
<polyline points="1300.8,2359.7 1307.7,2256 1358.2,2152.5 1304.7,2048.8 1304,1945.2 1351.3,1841.7" fill="none" stroke="#2f5b87" stroke-width="4.7" stroke-linejoin="round"/>
<circle cx="1300.8" cy="2359.7" r="6.84" fill="#2f5b87"/>
<circle cx="1307.7" cy="2256" r="6.84" fill="#2f5b87"/>
<circle cx="1358.2" cy="2152.5" r="6.84" fill="#2f5b87"/>
<circle cx="1304.7" cy="2048.8" r="6.84" fill="#2f5b87"/>
<circle cx="1304" cy="1945.2" r="6.84" fill="#2f5b87"/>
<circle cx="1351.3" cy="1841.7" r="6.84" fill="#2f5b87"/>
</g>
<text class="t" font-size="26" transform="translate(1110.84 2366.74) rotate(-90)">a</text>
<text class="t" font-size="26" transform="translate(1232.84 2382.88) rotate(-90)">b</text>
<text class="t" font-size="26" transform="translate(1304.94 2380.01) rotate(-90)">c</text>
<text class="t" font-size="26" transform="translate(1400.34 2366.61) rotate(-90)">c</text>
<text class="t" font-size="26" transform="translate(1112.84 2263.14) rotate(-90)">a</text>
<text class="t" font-size="26" transform="translate(1214.14 2293.78) rotate(-90)">b</text>
<text class="t" font-size="26" transform="translate(1288.74 2263.01) rotate(-90)">c</text>
<text class="t" font-size="26" transform="translate(1400.34 2263.01) rotate(-90)">c</text>
<text class="t" font-size="26" transform="translate(1180.04 2159.95) rotate(-90)">a</text>
<text class="t" font-size="26" transform="translate(1263.14 2183.78) rotate(-90)">b</text>
<text class="t" font-size="26" transform="translate(1340.54 2159.82) rotate(-90)">c</text>
<text class="t" font-size="26" transform="translate(1412.04 2171.22) rotate(-90)">c</text>
<text class="t" font-size="26" transform="translate(1138.24 2055.95) rotate(-90)">a</text>
<text class="t" font-size="26" transform="translate(1241.54 2087.08) rotate(-90)">b</text>
<text class="t" font-size="26" transform="translate(1303.74 2085.72) rotate(-90)">c</text>
<text class="t" font-size="26" transform="translate(1407.04 2048.91) rotate(-90)">c</text>
<text class="t" font-size="26" transform="translate(1106.34 1952.14) rotate(-90)">a</text>
<text class="t" font-size="26" transform="translate(1213.34 1975.78) rotate(-90)">b</text>
<text class="t" font-size="26" transform="translate(1295.04 1971.21) rotate(-90)">c</text>
<text class="t" font-size="26" transform="translate(1397.54 1952.01) rotate(-90)">c</text>
<text class="t" font-size="26" transform="translate(1183.04 1848.95) rotate(-90)">a</text>
<text class="t" font-size="26" transform="translate(1293.04 1822.05) rotate(-90)">a</text>
<text class="t" font-size="26" transform="translate(1356.04 1821.98) rotate(-90)">b</text>
<text class="t" font-size="26" transform="translate(1403.24 1821.98) rotate(-90)">b</text>
<text class="t" font-size="33.4" transform="translate(988.8 2243.28) rotate(-90)">30<tspan font-size="28" dx="1.35" dy="-5.4">–</tspan><tspan dx="1.35" dy="5.4">40 cm</tspan></text>
<text class="t" font-size="33.4" transform="translate(952.1 2564.54) rotate(-90)">D</text>
<text class="c" font-size="32.6" transform="translate(1542.73 2169.73) rotate(-90)">定植后时间</text>
<text class="t" font-size="33.4" transform="translate(1584.3 2228.45) rotate(-90)">Time after planting/d</text>
<g transform="translate(1218.8 2496.7) rotate(180)">
<text class="t" font-size="33.4" x="-226.94" y="0">Organic matter content</text>
<text class="t" font-size="33.4" x="81.9" y="0">/</text>
<text class="t" font-size="30" x="91.85" y="-5">(</text>
<text class="t" font-size="33.4" x="106.43" y="0">mg</text>
<text class="t" font-size="33.4" x="151.09" y="0">·</text>
<text class="t" font-size="33.4" x="165.33" y="0">kg</text>
<text class="tb" font-size="15" x="198.38" y="-17.3">-</text>
<text class="tb" font-size="13" x="204.7" y="-16.3">1</text>
<text class="t" font-size="30" x="216" y="-5">)</text>
</g>
<g transform="translate(1217.3 2548.4) rotate(180)">
<text class="ti" font-size="33.4" x="-76.68" y="11.4">w</text>
<text class="t" font-size="29" x="-51.85" y="6.96">(</text>
<text class="c" font-size="32.6" x="-37.76" y="12.39">有机质</text>
<text class="t" font-size="29" x="65.88" y="6.96">)</text>
</g>
</g>
<g id="chartE">
<line x1="962.15" y1="1561.5" x2="1439.4" y2="1561.5" stroke="#000" stroke-width="2.6"/>
<line x1="963.4" y1="1561.5" x2="963.4" y2="1548.42" stroke="#000" stroke-width="2.5"/>
<line x1="1121" y1="1561.5" x2="1121" y2="1548.42" stroke="#000" stroke-width="2.5"/>
<line x1="1279.4" y1="1561.5" x2="1279.4" y2="1548.42" stroke="#000" stroke-width="2.5"/>
<line x1="1438.1" y1="921.15" x2="1438.1" y2="1514.3" stroke="#000" stroke-width="2.6"/>
<line x1="1438.1" y1="1533.8" x2="1438.1" y2="1562.8" stroke="#000" stroke-width="2.6"/>
<line x1="1429" y1="1515.4" x2="1451.6" y2="1522.5" stroke="#000" stroke-width="1.7"/>
<line x1="1429" y1="1525.3" x2="1451.6" y2="1532.1" stroke="#000" stroke-width="1.7"/>
<line x1="1438.1" y1="1487" x2="1425.02" y2="1487" stroke="#000" stroke-width="2.5"/>
<line x1="1438.1" y1="1374" x2="1425.02" y2="1374" stroke="#000" stroke-width="2.5"/>
<line x1="1438.1" y1="1261" x2="1425.02" y2="1261" stroke="#000" stroke-width="2.5"/>
<line x1="1438.1" y1="1148.3" x2="1425.02" y2="1148.3" stroke="#000" stroke-width="2.5"/>
<line x1="1438.1" y1="1035.2" x2="1425.02" y2="1035.2" stroke="#000" stroke-width="2.5"/>
<line x1="1438.1" y1="922.4" x2="1425.02" y2="922.4" stroke="#000" stroke-width="2.5"/>
<text class="t" font-size="33.4" transform="translate(976.6 1599.6) rotate(-90)">25</text>
<text class="t" font-size="33.4" transform="translate(1134.03 1599.6) rotate(-90)">20</text>
<text class="t" font-size="33.4" transform="translate(1291.47 1599.6) rotate(-90)">15</text>
<text class="t" font-size="33.4" transform="translate(1448.9 1599.6) rotate(-90)">10</text>
<text class="t" font-size="33.4" transform="translate(1474.9 1511.2) rotate(-90)">69</text>
<text class="t" font-size="33.4" transform="translate(1474.9 1393.72) rotate(-90)">84</text>
<text class="t" font-size="33.4" transform="translate(1474.9 1276.63) rotate(-90)">99</text>
<text class="t" font-size="33.4" transform="translate(1474.9 1173.53) rotate(-90)">114</text>
<text class="t" font-size="33.4" transform="translate(1474.9 1061.2) rotate(-90)">129</text>
<text class="t" font-size="33.4" transform="translate(1474.9 945.32) rotate(-90)">144</text>
<g>
<path d="M1307.7 1487H1351.3M1307.7 1479.79V1494.21M1351.3 1479.79V1494.21M1319 1374H1361M1319 1366.79V1381.21M1361 1366.79V1381.21M1362.5 1261H1400.7M1362.5 1253.79V1268.21M1400.7 1253.79V1268.21M1336.1 1148.3H1376.3M1336.1 1141.09V1155.51M1376.3 1141.09V1155.51M1317 1035.2H1359.4M1317 1027.99V1042.41M1359.4 1027.99V1042.41M1353.2 922.4H1391.4M1353.2 915.19V929.61M1391.4 915.19V929.61" stroke="#000" stroke-width="2.37" fill="none"/>
<polyline points="1329.5,1487 1340,1374 1381.6,1261 1356.2,1148.3 1338.2,1035.2 1372.3,922.4" fill="none" stroke="#6f6c94" stroke-width="4.95" stroke-linejoin="round"/>
<polygon points="1321.85,1487 1329.5,1479.35 1337.15,1487 1329.5,1494.65" fill="#6f6c94"/>
<polygon points="1332.35,1374 1340,1366.35 1347.65,1374 1340,1381.65" fill="#6f6c94"/>
<polygon points="1373.95,1261 1381.6,1253.35 1389.25,1261 1381.6,1268.65" fill="#6f6c94"/>
<polygon points="1348.55,1148.3 1356.2,1140.65 1363.85,1148.3 1356.2,1155.95" fill="#6f6c94"/>
<polygon points="1330.55,1035.2 1338.2,1027.55 1345.85,1035.2 1338.2,1042.85" fill="#6f6c94"/>
<polygon points="1364.65,922.4 1372.3,914.75 1379.95,922.4 1372.3,930.05" fill="#6f6c94"/>
</g>
<g>
<path d="M1225.5 1487H1272.5M1225.5 1479.79V1494.21M1272.5 1479.79V1494.21M1235.5 1374H1281.5M1235.5 1366.79V1381.21M1281.5 1366.79V1381.21M1283.6 1261H1325.4M1283.6 1253.79V1268.21M1325.4 1253.79V1268.21M1255.2 1148.3H1300.4M1255.2 1141.09V1155.51M1300.4 1141.09V1155.51M1232.9 1035.2H1279.3M1232.9 1027.99V1042.41M1279.3 1027.99V1042.41M1275.6 922.4H1318.4M1275.6 915.19V929.61M1318.4 915.19V929.61" stroke="#000" stroke-width="2.37" fill="none"/>
<polyline points="1249,1487 1258.5,1374 1304.5,1261 1277.8,1148.3 1256.1,1035.2 1297,922.4" fill="none" stroke="#cb8ab3" stroke-width="4.95" stroke-linejoin="round"/>
<polygon points="1241.68,1487 1256.32,1479.68 1256.32,1494.32" fill="#cb8ab3"/>
<polygon points="1251.18,1374 1265.82,1366.68 1265.82,1381.32" fill="#cb8ab3"/>
<polygon points="1297.18,1261 1311.82,1253.68 1311.82,1268.32" fill="#cb8ab3"/>
<polygon points="1270.48,1148.3 1285.12,1140.98 1285.12,1155.62" fill="#cb8ab3"/>
<polygon points="1248.78,1035.2 1263.42,1027.88 1263.42,1042.52" fill="#cb8ab3"/>
<polygon points="1289.68,922.4 1304.32,915.08 1304.32,929.72" fill="#cb8ab3"/>
</g>
<g>
<path d="M1109.6 1487H1148.8M1109.6 1479.79V1494.21M1148.8 1479.79V1494.21M1117.7 1374H1156.7M1117.7 1366.79V1381.21M1156.7 1366.79V1381.21M1173.6 1261H1208.8M1173.6 1253.79V1268.21M1208.8 1253.79V1268.21M1140.2 1148.3H1178M1140.2 1141.09V1155.51M1178 1141.09V1155.51M1112.2 1035.2H1152.2M1112.2 1027.99V1042.41M1152.2 1027.99V1042.41M1165.6 922.4H1202.2M1165.6 915.19V929.61M1202.2 915.19V929.61" stroke="#000" stroke-width="2.37" fill="none"/>
<polyline points="1129.2,1487 1137.2,1374 1191.2,1261 1159.1,1148.3 1132.2,1035.2 1183.9,922.4" fill="none" stroke="#f6ca66" stroke-width="4.95" stroke-linejoin="round"/>
<rect x="1121.88" y="1479.68" width="14.64" height="14.64" fill="#f6ca66"/>
<rect x="1129.88" y="1366.68" width="14.64" height="14.64" fill="#f6ca66"/>
<rect x="1183.88" y="1253.68" width="14.64" height="14.64" fill="#f6ca66"/>
<rect x="1151.78" y="1140.98" width="14.64" height="14.64" fill="#f6ca66"/>
<rect x="1124.88" y="1027.88" width="14.64" height="14.64" fill="#f6ca66"/>
<rect x="1176.58" y="915.08" width="14.64" height="14.64" fill="#f6ca66"/>
</g>
<g>
<path d="M1277.3 1487H1297.1M1277.3 1479.79V1494.21M1297.1 1479.79V1494.21M1287.3 1374H1307.1M1287.3 1366.79V1381.21M1307.1 1366.79V1381.21M1333.1 1261H1350.9M1333.1 1253.79V1268.21M1350.9 1253.79V1268.21M1291.8 1148.3H1317.4M1291.8 1141.09V1155.51M1317.4 1141.09V1155.51M1285.6 1035.2H1304.8M1285.6 1027.99V1042.41M1304.8 1027.99V1042.41M1294.3 922.4H1313.5M1294.3 915.19V929.61M1313.5 915.19V929.61" stroke="#000" stroke-width="2.37" fill="none"/>
<polyline points="1287.2,1487 1297.2,1374 1342,1261 1304.6,1148.3 1295.2,1035.2 1303.9,922.4" fill="none" stroke="#2f5b87" stroke-width="4.95" stroke-linejoin="round"/>
<circle cx="1287.2" cy="1487" r="7.21" fill="#2f5b87"/>
<circle cx="1297.2" cy="1374" r="7.21" fill="#2f5b87"/>
<circle cx="1342" cy="1261" r="7.21" fill="#2f5b87"/>
<circle cx="1304.6" cy="1148.3" r="7.21" fill="#2f5b87"/>
<circle cx="1295.2" cy="1035.2" r="7.21" fill="#2f5b87"/>
<circle cx="1303.9" cy="922.4" r="7.21" fill="#2f5b87"/>
</g>
<text class="t" font-size="26" transform="translate(1082.14 1493.95) rotate(-90)">a</text>
<text class="t" font-size="26" transform="translate(1210.34 1493.88) rotate(-90)">b</text>
<text class="t" font-size="26" transform="translate(1276.24 1535.62) rotate(-90)">c</text>
<text class="t" font-size="26" transform="translate(1396.94 1494.73) rotate(-90)">d</text>
<text class="t" font-size="26" transform="translate(1033.74 1380.95) rotate(-90)">a</text>
<text class="t" font-size="26" transform="translate(1063.74 1380.88) rotate(-90)">b</text>
<text class="t" font-size="26" transform="translate(1095.84 1380.82) rotate(-90)">c</text>
<text class="t" font-size="26" transform="translate(1402.74 1383.53) rotate(-90)">d</text>
<text class="t" font-size="26" transform="translate(1088.84 1266.95) rotate(-90)">a</text>
<text class="t" font-size="26" transform="translate(1120.24 1266.88) rotate(-90)">b</text>
<text class="t" font-size="26" transform="translate(1151.04 1266.82) rotate(-90)">c</text>
<text class="t" font-size="26" transform="translate(1403.94 1296.33) rotate(-90)">d</text>
<text class="t" font-size="26" transform="translate(1054.74 1152.25) rotate(-90)">a</text>
<text class="t" font-size="26" transform="translate(1085.84 1152.18) rotate(-90)">b</text>
<text class="t" font-size="26" transform="translate(1117.74 1152.18) rotate(-90)">b</text>
<text class="t" font-size="26" transform="translate(1396.94 1157.12) rotate(-90)">c</text>
<text class="t" font-size="26" transform="translate(1028.14 1040.35) rotate(-90)">a</text>
<text class="t" font-size="26" transform="translate(1061.24 1040.28) rotate(-90)">b</text>
<text class="t" font-size="26" transform="translate(1090.84 1040.21) rotate(-90)">c</text>
<text class="t" font-size="26" transform="translate(1389.04 1047.33) rotate(-90)">d</text>
<text class="t" font-size="26" transform="translate(1072.14 928.34) rotate(-90)">a</text>
<text class="t" font-size="26" transform="translate(1102.04 928.28) rotate(-90)">b</text>
<text class="t" font-size="26" transform="translate(1133.94 928.28) rotate(-90)">b</text>
<text class="t" font-size="26" transform="translate(1404.44 931.91) rotate(-90)">c</text>
<text class="t" font-size="33.4" transform="translate(976.5 1325.67) rotate(-90)">40<tspan font-size="28" dx="1.35" dy="-5.4">–</tspan><tspan dx="1.35" dy="5.4">50 cm</tspan></text>
<text class="t" font-size="33.4" transform="translate(952 1697.35) rotate(-90)">E</text>
<text class="c" font-size="32.6" transform="translate(1542.73 1283.93) rotate(-90)">定植后时间</text>
<text class="t" font-size="33.4" transform="translate(1584.3 1343.75) rotate(-90)">Time after planting/d</text>
<g transform="translate(1199.8 1636) rotate(180)">
<text class="t" font-size="33.4" x="-226.94" y="0">Organic matter content</text>
<text class="t" font-size="33.4" x="81.9" y="0">/</text>
<text class="t" font-size="30" x="91.85" y="-5">(</text>
<text class="t" font-size="33.4" x="106.43" y="0">mg</text>
<text class="t" font-size="33.4" x="151.09" y="0">·</text>
<text class="t" font-size="33.4" x="165.33" y="0">kg</text>
<text class="tb" font-size="15" x="198.38" y="-17.3">-</text>
<text class="tb" font-size="13" x="204.7" y="-16.3">1</text>
<text class="t" font-size="30" x="216" y="-5">)</text>
</g>
<g transform="translate(1199.8 1688.8) rotate(180)">
<text class="ti" font-size="33.4" x="-76.68" y="11.4">w</text>
<text class="t" font-size="29" x="-51.85" y="6.96">(</text>
<text class="c" font-size="32.6" x="-37.76" y="12.39">有机质</text>
<text class="t" font-size="29" x="65.88" y="6.96">)</text>
</g>
</g>
<g id="chartF">
<line x1="971.45" y1="673.5" x2="1440.3" y2="673.5" stroke="#000" stroke-width="2.6"/>
<line x1="972.7" y1="673.5" x2="972.7" y2="660.59" stroke="#000" stroke-width="2.5"/>
<line x1="1089.4" y1="673.5" x2="1089.4" y2="660.59" stroke="#000" stroke-width="2.5"/>
<line x1="1205.8" y1="673.5" x2="1205.8" y2="660.59" stroke="#000" stroke-width="2.5"/>
<line x1="1322.4" y1="673.5" x2="1322.4" y2="660.59" stroke="#000" stroke-width="2.5"/>
<line x1="1439" y1="41.95" x2="1439" y2="627.7" stroke="#000" stroke-width="2.6"/>
<line x1="1439" y1="647.2" x2="1439" y2="674.8" stroke="#000" stroke-width="2.6"/>
<line x1="1429.7" y1="628.8" x2="1452.3" y2="635.9" stroke="#000" stroke-width="1.7"/>
<line x1="1429.7" y1="639.1" x2="1452.3" y2="646.2" stroke="#000" stroke-width="1.7"/>
<line x1="1439" y1="600" x2="1426.09" y2="600" stroke="#000" stroke-width="2.5"/>
<line x1="1439" y1="488.5" x2="1426.09" y2="488.5" stroke="#000" stroke-width="2.5"/>
<line x1="1439" y1="377.1" x2="1426.09" y2="377.1" stroke="#000" stroke-width="2.5"/>
<line x1="1439" y1="265.9" x2="1426.09" y2="265.9" stroke="#000" stroke-width="2.5"/>
<line x1="1439" y1="154.3" x2="1426.09" y2="154.3" stroke="#000" stroke-width="2.5"/>
<line x1="1439" y1="43.2" x2="1426.09" y2="43.2" stroke="#000" stroke-width="2.5"/>
<text class="t" font-size="33.4" transform="translate(984.7 712.2) rotate(-90)">18</text>
<text class="t" font-size="33.4" transform="translate(1100.05 712.2) rotate(-90)">16</text>
<text class="t" font-size="33.4" transform="translate(1215.4 712.2) rotate(-90)">14</text>
<text class="t" font-size="33.4" transform="translate(1330.75 712.2) rotate(-90)">12</text>
<text class="t" font-size="33.4" transform="translate(1446.1 712.2) rotate(-90)">10</text>
<text class="t" font-size="33.4" transform="translate(1474.9 622.9) rotate(-90)">69</text>
<text class="t" font-size="33.4" transform="translate(1474.9 505.72) rotate(-90)">84</text>
<text class="t" font-size="33.4" transform="translate(1474.9 397.53) rotate(-90)">99</text>
<text class="t" font-size="33.4" transform="translate(1474.9 293.33) rotate(-90)">114</text>
<text class="t" font-size="33.4" transform="translate(1474.9 181.2) rotate(-90)">129</text>
<text class="t" font-size="33.4" transform="translate(1474.9 65.32) rotate(-90)">144</text>
<g>
<path d="M1251.4 600H1286.6M1251.4 592.85V607.15M1286.6 592.85V607.15M1252.9 488.5H1290.1M1252.9 481.35V495.65M1290.1 481.35V495.65M1329.1 377.1H1378.3M1329.1 369.95V384.25M1378.3 369.95V384.25M1296.5 265.9H1333.1M1296.5 258.75V273.05M1333.1 258.75V273.05M1248.5 154.3H1283.7M1248.5 147.15V161.45M1283.7 147.15V161.45M1311.3 43.2H1363.3M1311.3 36.05V50.35M1363.3 36.05V50.35" stroke="#000" stroke-width="2.35" fill="none"/>
<polyline points="1269,600 1271.5,488.5 1353.7,377.1 1314.8,265.9 1266.1,154.3 1337.3,43.2" fill="none" stroke="#6f6c94" stroke-width="4.91" stroke-linejoin="round"/>
<polygon points="1261.42,600 1269,592.42 1276.58,600 1269,607.58" fill="#6f6c94"/>
<polygon points="1263.92,488.5 1271.5,480.92 1279.08,488.5 1271.5,496.08" fill="#6f6c94"/>
<polygon points="1346.12,377.1 1353.7,369.52 1361.28,377.1 1353.7,384.68" fill="#6f6c94"/>
<polygon points="1307.22,265.9 1314.8,258.32 1322.38,265.9 1314.8,273.48" fill="#6f6c94"/>
<polygon points="1258.52,154.3 1266.1,146.72 1273.68,154.3 1266.1,161.88" fill="#6f6c94"/>
<polygon points="1329.72,43.2 1337.3,35.62 1344.88,43.2 1337.3,50.78" fill="#6f6c94"/>
</g>
<g>
<path d="M1158.7 600H1195.9M1158.7 592.85V607.15M1195.9 592.85V607.15M1177.9 488.5H1213.1M1177.9 481.35V495.65M1213.1 481.35V495.65M1215.9 377.1H1294.3M1215.9 369.95V384.25M1294.3 369.95V384.25M1222.1 265.9H1281.3M1222.1 258.75V273.05M1281.3 258.75V273.05M1209.1 154.3H1250.9M1209.1 147.15V161.45M1250.9 147.15V161.45M1246.8 43.2H1286.4M1246.8 36.05V50.35M1286.4 36.05V50.35" stroke="#000" stroke-width="2.35" fill="none"/>
<polyline points="1177.3,600 1195.5,488.5 1255.1,377.1 1251.7,265.9 1230,154.3 1266.6,43.2" fill="none" stroke="#cb8ab3" stroke-width="4.91" stroke-linejoin="round"/>
<polygon points="1170.04,600 1184.56,592.74 1184.56,607.26" fill="#cb8ab3"/>
<polygon points="1188.24,488.5 1202.76,481.24 1202.76,495.76" fill="#cb8ab3"/>
<polygon points="1247.84,377.1 1262.36,369.84 1262.36,384.36" fill="#cb8ab3"/>
<polygon points="1244.44,265.9 1258.96,258.64 1258.96,273.16" fill="#cb8ab3"/>
<polygon points="1222.74,154.3 1237.26,147.04 1237.26,161.56" fill="#cb8ab3"/>
<polygon points="1259.34,43.2 1273.86,35.94 1273.86,50.46" fill="#cb8ab3"/>
</g>
<g>
<path d="M1030 600H1091.2M1030 592.85V607.15M1091.2 592.85V607.15M1066.6 488.5H1104.8M1066.6 481.35V495.65M1104.8 481.35V495.65M1139.6 377.1H1194.8M1139.6 369.95V384.25M1194.8 369.95V384.25M1119.8 265.9H1145.6M1119.8 258.75V273.05M1145.6 258.75V273.05M1041.2 154.3H1102M1041.2 147.15V161.45M1102 147.15V161.45M1142.4 43.2H1174.8M1142.4 36.05V50.35M1174.8 36.05V50.35" stroke="#000" stroke-width="2.35" fill="none"/>
<polyline points="1060.6,600 1085.7,488.5 1167.2,377.1 1132.7,265.9 1071.6,154.3 1158.6,43.2" fill="none" stroke="#f6ca66" stroke-width="4.91" stroke-linejoin="round"/>
<rect x="1053.34" y="592.74" width="14.52" height="14.52" fill="#f6ca66"/>
<rect x="1078.44" y="481.24" width="14.52" height="14.52" fill="#f6ca66"/>
<rect x="1159.94" y="369.84" width="14.52" height="14.52" fill="#f6ca66"/>
<rect x="1125.44" y="258.64" width="14.52" height="14.52" fill="#f6ca66"/>
<rect x="1064.34" y="147.04" width="14.52" height="14.52" fill="#f6ca66"/>
<rect x="1151.34" y="35.94" width="14.52" height="14.52" fill="#f6ca66"/>
</g>
<g>
<path d="M1241 600H1311.4M1241 592.85V607.15M1311.4 592.85V607.15M1265.1 488.5H1297.1M1265.1 481.35V495.65M1297.1 481.35V495.65M1341.9 377.1H1372.9M1341.9 369.95V384.25M1372.9 369.95V384.25M1243.5 265.9H1288.7M1243.5 258.75V273.05M1288.7 258.75V273.05M1261.7 154.3H1293.5M1261.7 147.15V161.45M1293.5 147.15V161.45M1324.4 43.2H1354.8M1324.4 36.05V50.35M1354.8 36.05V50.35" stroke="#000" stroke-width="2.35" fill="none"/>
<polyline points="1276.2,600 1281.1,488.5 1357.4,377.1 1266.1,265.9 1277.6,154.3 1339.6,43.2" fill="none" stroke="#2f5b87" stroke-width="4.91" stroke-linejoin="round"/>
<circle cx="1276.2" cy="600" r="7.15" fill="#2f5b87"/>
<circle cx="1281.1" cy="488.5" r="7.15" fill="#2f5b87"/>
<circle cx="1357.4" cy="377.1" r="7.15" fill="#2f5b87"/>
<circle cx="1266.1" cy="265.9" r="7.15" fill="#2f5b87"/>
<circle cx="1277.6" cy="154.3" r="7.15" fill="#2f5b87"/>
<circle cx="1339.6" cy="43.2" r="7.15" fill="#2f5b87"/>
</g>
<text class="t" font-size="26" transform="translate(1012.84 605.25) rotate(-90)">a</text>
<text class="t" font-size="26" transform="translate(1141.04 605.18) rotate(-90)">b</text>
<text class="t" font-size="26" transform="translate(1331.84 613.21) rotate(-90)">c</text>
<text class="t" font-size="26" transform="translate(1362.94 613.21) rotate(-90)">c</text>
<text class="t" font-size="26" transform="translate(1056.64 493.75) rotate(-90)">a</text>
<text class="t" font-size="26" transform="translate(1160.34 495.08) rotate(-90)">b</text>
<text class="t" font-size="26" transform="translate(1314.54 501.42) rotate(-90)">c</text>
<text class="t" font-size="26" transform="translate(1344.74 501.42) rotate(-90)">c</text>
<text class="t" font-size="26" transform="translate(1019.14 383.35) rotate(-90)">a</text>
<text class="t" font-size="26" transform="translate(1049.44 383.28) rotate(-90)">b</text>
<text class="t" font-size="26" transform="translate(1080.54 384.62) rotate(-90)">c</text>
<text class="t" font-size="26" transform="translate(1402.74 386.72) rotate(-90)">c</text>
<text class="t" font-size="26" transform="translate(1105.64 270.85) rotate(-90)">a</text>
<text class="t" font-size="26" transform="translate(1204.44 276.58) rotate(-90)">b</text>
<text class="t" font-size="26" transform="translate(1351.44 276.58) rotate(-90)">b</text>
<text class="t" font-size="26" transform="translate(1381.64 277.92) rotate(-90)">c</text>
<text class="t" font-size="26" transform="translate(1032.44 159.34) rotate(-90)">a</text>
<text class="t" font-size="26" transform="translate(1198.64 164.18) rotate(-90)">b</text>
<text class="t" font-size="26" transform="translate(1318.84 169.08) rotate(-90)">b</text>
<text class="t" font-size="26" transform="translate(1349.14 169.08) rotate(-90)">b</text>
<text class="t" font-size="26" transform="translate(1130.04 48.95) rotate(-90)">a</text>
<text class="t" font-size="26" transform="translate(1234.74 50.28) rotate(-90)">b</text>
<text class="t" font-size="26" transform="translate(1351.44 25.71) rotate(-90)">c</text>
<text class="t" font-size="26" transform="translate(1381.64 25.71) rotate(-90)">c</text>
<text class="t" font-size="33.4" transform="translate(976.5 413.73) rotate(-90)">50<tspan font-size="28" dx="1.35" dy="-5.4">–</tspan><tspan dx="1.35" dy="5.4">60 cm</tspan></text>
<text class="t" font-size="33.4" transform="translate(952 814.58) rotate(-90)">F</text>
<text class="c" font-size="32.6" transform="translate(1542.73 413.33) rotate(-90)">定植后时间</text>
<text class="t" font-size="33.4" transform="translate(1584.3 472.45) rotate(-90)">Time after planting/d</text>
<g transform="translate(1206 753.4) rotate(180)">
<text class="t" font-size="33.4" x="-226.94" y="0">Organic matter content</text>
<text class="t" font-size="33.4" x="81.9" y="0">/</text>
<text class="t" font-size="30" x="91.85" y="-5">(</text>
<text class="t" font-size="33.4" x="106.43" y="0">mg</text>
<text class="t" font-size="33.4" x="151.09" y="0">·</text>
<text class="t" font-size="33.4" x="165.33" y="0">kg</text>
<text class="tb" font-size="15" x="198.38" y="-17.3">-</text>
<text class="tb" font-size="13" x="204.7" y="-16.3">1</text>
<text class="t" font-size="30" x="216" y="-5">)</text>
</g>
<g transform="translate(1205 805.45) rotate(180)">
<text class="ti" font-size="33.4" x="-76.68" y="11.4">w</text>
<text class="t" font-size="29" x="-51.85" y="6.96">(</text>
<text class="c" font-size="32.6" x="-37.76" y="12.39">有机质</text>
<text class="t" font-size="29" x="65.88" y="6.96">)</text>
</g>
</g>
</svg></body></html>
